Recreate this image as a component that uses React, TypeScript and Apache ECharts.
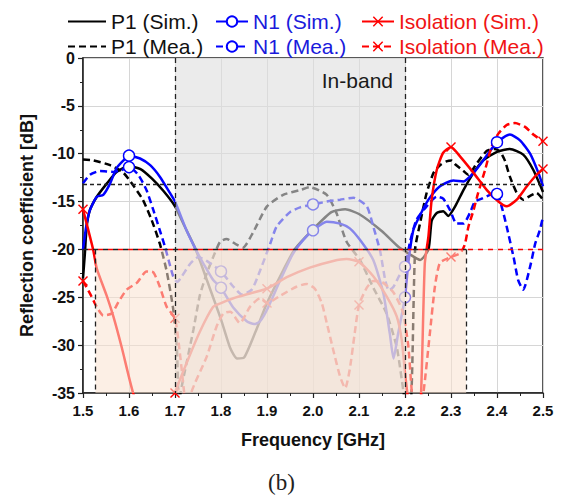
import React, { useEffect, useRef } from 'react';
import * as echarts from 'echarts';

const FONT = '"Liberation Sans", Arial, Helvetica, sans-serif';

// ---------- data (frequency GHz, dB) ----------
const p1Sim: [number, number][] = [
  [1.5, -23.0], [1.504, -20.5], [1.508, -17.6], [1.515, -15.9], [1.53, -14.5], [1.552, -13.1],
  [1.573, -11.9], [1.6, -11.3], [1.625, -11.6], [1.65, -12.6], [1.675, -13.9], [1.7, -15.5],
  [1.72, -17.5], [1.745, -20.0], [1.77, -23.3], [1.8, -27.3], [1.82, -30.3], [1.835, -31.4],
  [1.85, -31.3], [1.875, -28.6], [1.9, -25.6], [1.935, -22.2], [1.96, -20.0], [2.0, -17.9],
  [2.04, -16.1], [2.07, -15.8], [2.1, -16.3], [2.15, -18.1], [2.185, -19.7], [2.21, -20.5],
  [2.233, -21.1], [2.251, -20.0], [2.258, -17.0], [2.269, -16.2], [2.283, -16.0], [2.294, -16.5],
  [2.309, -15.5], [2.327, -13.8], [2.349, -12.0], [2.37, -10.7], [2.4, -9.8], [2.428, -9.5],
  [2.457, -10.1], [2.479, -11.7], [2.5, -14.0],
];

const p1Mea: [number, number][] = [
  [1.5, -10.6], [1.522, -10.7], [1.559, -11.2], [1.588, -12.0], [1.609, -13.3], [1.63, -14.8],
  [1.649, -16.9], [1.667, -19.4], [1.682, -22.3], [1.696, -26.2], [1.704, -30.2], [1.707, -35],
  [1.709, -37], [1.712, -35], [1.725, -31.9], [1.74, -28.4], [1.754, -24.8], [1.769, -22.5],
  [1.783, -20.8], [1.798, -19.2], [1.812, -18.9], [1.834, -19.5], [1.848, -19.8], [1.87, -18.2],
  [1.9, -15.5], [1.935, -14.3], [1.972, -13.8], [1.993, -13.5], [2.03, -14.3], [2.051, -16.2],
  [2.073, -19.2], [2.102, -21.1], [2.13, -23.9], [2.16, -26.7], [2.182, -30.2], [2.193, -33.6],
  [2.197, -35], [2.205, -38], [2.214, -35], [2.222, -20.0], [2.233, -17.2], [2.247, -14.1],
  [2.262, -12.0], [2.276, -11.2], [2.29, -10.8], [2.301, -10.7], [2.309, -11.1], [2.327, -11.8],
  [2.338, -12.2], [2.356, -11.0], [2.378, -9.7], [2.395, -9.5], [2.407, -9.8], [2.417, -10.7],
  [2.428, -12.4], [2.443, -14.1], [2.457, -14.8], [2.472, -14.4], [2.486, -14.1], [2.5, -14.8],
];

const n1Sim: [number, number][] = [
  [1.5, -20.0], [1.507, -17.6], [1.515, -15.9], [1.53, -14.5], [1.544, -14.3], [1.559, -13.1],
  [1.573, -11.5], [1.588, -10.7], [1.6, -10.2], [1.624, -10.5], [1.646, -11.2], [1.667, -12.4],
  [1.689, -14.1], [1.7, -15.0], [1.725, -18.0], [1.745, -20.0], [1.762, -21.5], [1.783, -23.2],
  [1.8, -24.0], [1.827, -26.1], [1.856, -27.5], [1.872, -27.8], [1.885, -27.5], [1.9, -26.3],
  [1.928, -23.3], [1.957, -20.4], [1.979, -19.0], [2.0, -18.0], [2.03, -17.1], [2.059, -17.3],
  [2.08, -17.8], [2.102, -19.0], [2.131, -21.1], [2.153, -24.6], [2.167, -28.8], [2.175, -31.4],
  [2.185, -28.8], [2.2, -25.0], [2.207, -21.5], [2.218, -18.0], [2.233, -16.4], [2.251, -14.8],
  [2.276, -13.4], [2.305, -12.8], [2.327, -12.9], [2.349, -12.0], [2.37, -10.7], [2.4, -8.8],
  [2.428, -8.0], [2.45, -8.6], [2.472, -10.0], [2.49, -12.0], [2.5, -13.4],
];

const n1Mea: [number, number][] = [
  [1.5, -13.1], [1.515, -12.2], [1.537, -11.8], [1.566, -11.9], [1.584, -11.7], [1.6, -11.4],
  [1.62, -12.2], [1.638, -13.8], [1.653, -15.9], [1.667, -18.0], [1.678, -19.7], [1.686, -21.1],
  [1.696, -22.8], [1.705, -23.4], [1.715, -22.8], [1.733, -21.5], [1.751, -20.8], [1.769, -21.2],
  [1.8, -22.3], [1.827, -23.9], [1.845, -24.7], [1.867, -24.2], [1.885, -22.2], [1.907, -19.4],
  [1.921, -17.6], [1.95, -16.1], [1.972, -15.6], [2.0, -15.3], [2.03, -15.0], [2.059, -14.8],
  [2.088, -14.6], [2.117, -15.5], [2.131, -17.6], [2.146, -20.2], [2.157, -23.2], [2.165, -24.3],
  [2.175, -23.9], [2.187, -22.8], [2.2, -21.8], [2.211, -19.2], [2.225, -16.9], [2.247, -15.5],
  [2.269, -14.5], [2.283, -14.7], [2.298, -15.9], [2.312, -17.3], [2.327, -17.3], [2.341, -16.2],
  [2.352, -15.0], [2.367, -14.7], [2.385, -14.3], [2.4, -14.2], [2.41, -15.5], [2.421, -17.6],
  [2.436, -20.8], [2.446, -23.2], [2.457, -24.2], [2.472, -21.8], [2.483, -19.4], [2.493, -18.0],
  [2.5, -16.6],
];

const isoSim: [number, number][] = [
  [1.5, -15.8], [1.51, -17.7], [1.522, -20.0], [1.53, -22.0], [1.552, -24.9], [1.566, -27.0],
  [1.584, -30.2], [1.609, -35], [1.64, -39], [1.68, -39], [1.7, -35], [1.725, -31.9],
  [1.754, -28.6], [1.783, -26.0], [1.8, -25.6], [1.827, -25.1], [1.863, -24.6], [1.9, -24.1],
  [1.943, -22.9], [1.993, -21.9], [2.044, -21.2], [2.073, -21.0], [2.1, -21.3], [2.131, -22.8],
  [2.16, -24.9], [2.182, -27.0], [2.193, -29.5], [2.2, -32.9], [2.205, -35], [2.215, -39],
  [2.228, -39], [2.235, -35], [2.243, -21.5], [2.251, -18.6], [2.258, -14.8], [2.269, -11.7],
  [2.283, -9.9], [2.3, -9.3], [2.32, -10.3], [2.349, -12.0], [2.378, -13.8], [2.403, -15.0],
  [2.421, -15.5], [2.443, -14.8], [2.465, -13.4], [2.486, -12.2], [2.5, -11.6],
];

const isoMea: [number, number][] = [
  [1.5, -23.3], [1.515, -24.6], [1.53, -26.0], [1.544, -26.9], [1.562, -26.7], [1.577, -25.5],
  [1.595, -24.2], [1.617, -23.5], [1.638, -22.3], [1.653, -22.4], [1.667, -23.9], [1.682, -26.0],
  [1.7, -27.2], [1.711, -31.0], [1.72, -35], [1.727, -38], [1.735, -35], [1.769, -31.2],
  [1.79, -28.1], [1.805, -26.7], [1.82, -26.5], [1.841, -27.7], [1.863, -26.0], [1.885, -25.1],
  [1.9, -25.6], [1.93, -24.8], [1.964, -23.9], [1.986, -23.6], [2.004, -24.1], [2.019, -25.6],
  [2.03, -27.7], [2.044, -30.5], [2.059, -33.3], [2.07, -34.5], [2.08, -32.5], [2.09, -29.0],
  [2.1, -25.8], [2.117, -24.0], [2.131, -23.3], [2.15, -23.4], [2.175, -24.5], [2.195, -26.5],
  [2.207, -30.0], [2.215, -35], [2.225, -39], [2.24, -35], [2.254, -28.8], [2.265, -23.9],
  [2.276, -21.4], [2.3, -20.8], [2.32, -20.4], [2.33, -19.5], [2.338, -17.6], [2.349, -15.9],
  [2.359, -14.1], [2.374, -11.7], [2.388, -9.3], [2.403, -7.9], [2.421, -7.0], [2.439, -6.8],
  [2.461, -7.2], [2.479, -8.0], [2.5, -8.7],
];

const n1MarkerFreqs = [1.6, 1.8, 2.0, 2.2, 2.4];
const isoMarkerFreqs = [1.5, 1.7, 1.9, 2.1, 2.3, 2.5];

const inBand = [1.7, 2.2];
const isoBand = [1.527, 2.333];
const p1Level = -13.2;
const isoLevel = -20;

const xRange = { min: 1.5, max: 2.5, step: 0.1 };
const yRange = { min: -35, max: 0, step: 5 };

const seriesNames = [
  'P1 (Sim.)', 'P1 (Mea.)', 'N1 (Sim.)', 'N1 (Mea.)', 'Isolation (Sim.)', 'Isolation (Mea.)',
];

const BLACK = '#000000';
const BLUE = '#0000ff';
const RED = '#ff0000';
const X_SYMBOL = 'path://M0,1L1,0L5,4L9,0L10,1L6,5L10,9L9,10L5,6L1,10L0,9L4,5Z';
const DASH = [7, 4];

function withMarkers(points: [number, number][], markers: number[]) {
  return points.map(([x, y]) => {
    const isMarker = markers.some((m) => Math.abs(m - x) < 1e-6);
    return isMarker ? { value: [x, y] } : { value: [x, y], symbol: 'none' };
  });
}

export default function App() {
  const ref = useRef<HTMLDivElement>(null);

  useEffect(() => {
    document.body.style.margin = '0';
    if (!ref.current) return;
    const chart = echarts.init(ref.current, undefined, { renderer: 'svg' });

    const baseLine = (name: string, data: any, color: string, dashed: boolean, extra: any = {}) => ({
      name,
      type: 'line',
      data,
      z: 2,
      smooth: 0.2,
      symbol: 'none',
      lineStyle: { color, width: 2.5, type: dashed ? DASH : 'solid' },
      itemStyle: { color },
      emphasis: { disabled: true },
      ...extra,
    });

    const circleStyle = {
      symbol: 'circle',
      symbolSize: 11,
      itemStyle: { color: '#ffffff', borderColor: BLUE, borderWidth: 1.4 },
    };
    const crossStyle = {
      symbol: X_SYMBOL,
      symbolSize: 10,
      itemStyle: { color: RED },
    };

    const legendText = (color: string) => ({
      color,
      fontSize: 21,
      fontFamily: FONT,
      lineHeight: 21,
    });

    const option: any = {
      animation: false,
      backgroundColor: '#ffffff',
      textStyle: { fontFamily: FONT },
      grid: {
        left: 83,
        right: 20,
        top: 58,
        bottom: 106,
        show: true,
        borderColor: '#222222',
        borderWidth: 1.5,
        backgroundColor: 'transparent',
      },
      legend: [
        {
          left: 62, top: 6, orient: 'vertical', itemGap: 4, itemWidth: 38, itemHeight: 13,
          selectedMode: false,
          data: [
            { name: seriesNames[0], textStyle: legendText('#111111'), itemStyle: { opacity: 0 } },
            { name: seriesNames[1], textStyle: legendText('#111111'), itemStyle: { opacity: 0 } },
          ],
        },
        {
          left: 210, top: 6, orient: 'vertical', itemGap: 4, itemWidth: 32, itemHeight: 13,
          selectedMode: false,
          data: [
            { name: seriesNames[2], textStyle: legendText('#1a1adc') },
            { name: seriesNames[3], textStyle: legendText('#1a1adc') },
          ],
        },
        {
          left: 356, top: 6, orient: 'vertical', itemGap: 4, itemWidth: 32, itemHeight: 13,
          selectedMode: false,
          data: [
            { name: seriesNames[4], textStyle: legendText('#f01414') },
            { name: seriesNames[5], textStyle: legendText('#f01414') },
          ],
        },
      ],
      xAxis: {
        type: 'value',
        min: xRange.min,
        max: xRange.max,
        interval: xRange.step,
        name: 'Frequency [GHz]',
        nameLocation: 'middle',
        nameGap: 38,
        nameTextStyle: { fontSize: 18, fontWeight: 'bold', color: '#111', fontFamily: FONT },
        axisLine: { onZero: false, lineStyle: { color: '#222', width: 1.5 } },
        axisTick: { show: true, length: 5, lineStyle: { color: '#222', width: 1.2 } },
        minorTick: { show: true, splitNumber: 2, length: 3, lineStyle: { color: '#222', width: 1 } },
        axisLabel: {
          fontSize: 15, fontWeight: 'bold', color: '#111', margin: 10, fontFamily: FONT,
          formatter: (v: number) => v.toFixed(1),
        },
        splitLine: { show: true, lineStyle: { color: '#d6d6d6', width: 1 } },
      },
      yAxis: {
        type: 'value',
        min: yRange.min,
        max: yRange.max,
        interval: yRange.step,
        name: 'Reflection coefficient [dB]',
        nameLocation: 'middle',
        nameGap: 47,
        nameTextStyle: { fontSize: 18, fontWeight: 'bold', color: '#111', fontFamily: FONT },
        axisLine: { onZero: false, lineStyle: { color: '#222', width: 1.5 } },
        axisTick: { show: true, length: 5, lineStyle: { color: '#222', width: 1.2 } },
        minorTick: { show: true, splitNumber: 2, length: 3, lineStyle: { color: '#222', width: 1 } },
        axisLabel: { fontSize: 16, fontWeight: 'bold', color: '#111', margin: 8, fontFamily: FONT },
        splitLine: { show: true, lineStyle: { color: '#d6d6d6', width: 1 } },
      },
      series: [
        baseLine(seriesNames[0], p1Sim, BLACK, false),
        baseLine(seriesNames[1], p1Mea, BLACK, true),
        baseLine(seriesNames[2], withMarkers(n1Sim, n1MarkerFreqs), BLUE, false, circleStyle),
        baseLine(seriesNames[3], withMarkers(n1Mea, n1MarkerFreqs), BLUE, true, circleStyle),
        baseLine(seriesNames[4], withMarkers(isoSim, isoMarkerFreqs), RED, false, crossStyle),
        baseLine(seriesNames[5], withMarkers(isoMea, isoMarkerFreqs), RED, true, crossStyle),
        {
          name: 'overlay',
          type: 'line',
          data: [],
          z: 5,
          silent: true,
          markArea: {
            silent: true,
            z: 5,
            data: [
              [
                { coord: [inBand[0], yRange.max], itemStyle: { color: 'rgba(222,222,222,0.6)' } },
                { coord: [inBand[1], yRange.min] },
              ],
              [
                { coord: [isoBand[0], isoLevel], itemStyle: { color: 'rgba(250,226,208,0.55)' } },
                { coord: [isoBand[1], yRange.min] },
              ],
            ],
          },
          markLine: {
            silent: true,
            z: 6,
            symbol: ['none', 'none'],
            label: { show: false },
            emphasis: { disabled: true },
            data: [
              [{ coord: [inBand[0], yRange.max], lineStyle: { color: '#222', width: 1.3, type: [5, 4] } }, { coord: [inBand[0], yRange.min] }],
              [{ coord: [inBand[1], yRange.max], lineStyle: { color: '#222', width: 1.3, type: [5, 4] } }, { coord: [inBand[1], yRange.min] }],
              [{ coord: [isoBand[0], isoLevel], lineStyle: { color: '#222', width: 1.3, type: [5, 4] } }, { coord: [isoBand[0], yRange.min] }],
              [{ coord: [isoBand[1], isoLevel], lineStyle: { color: '#222', width: 1.3, type: [5, 4] } }, { coord: [isoBand[1], yRange.min] }],
              [{ coord: [xRange.min, p1Level], lineStyle: { color: '#222', width: 1.3, type: [4, 3] } }, { coord: [xRange.max, p1Level] }],
              [{ coord: [xRange.min, isoLevel], lineStyle: { color: RED, width: 1.3, type: [5, 5], dashOffset: 5 } }, { coord: [xRange.max, isoLevel] }],
              [{ coord: [xRange.min, isoLevel], lineStyle: { color: '#222', width: 1.3, type: [5, 5] } }, { coord: [isoBand[1], isoLevel] }],
            ],
          },
        },
      ],
      graphic: [
        {
          type: 'text',
          right: 170,
          top: 70,
          z: 20,
          style: { text: 'In-band', fontSize: 21, fontFamily: FONT, fill: '#1a1a1a' },
        },
        {
          type: 'text',
          left: 'center',
          top: 471,
          z: 20,
          style: { text: '(b)', fontSize: 23, fontFamily: '"Liberation Serif", "Times New Roman", serif', fill: '#222' },
        },
      ],
    };

    chart.setOption(option);
    return () => chart.dispose();
  }, []);

  return <div ref={ref} style={{ width: 563, height: 499 }} />;
}
